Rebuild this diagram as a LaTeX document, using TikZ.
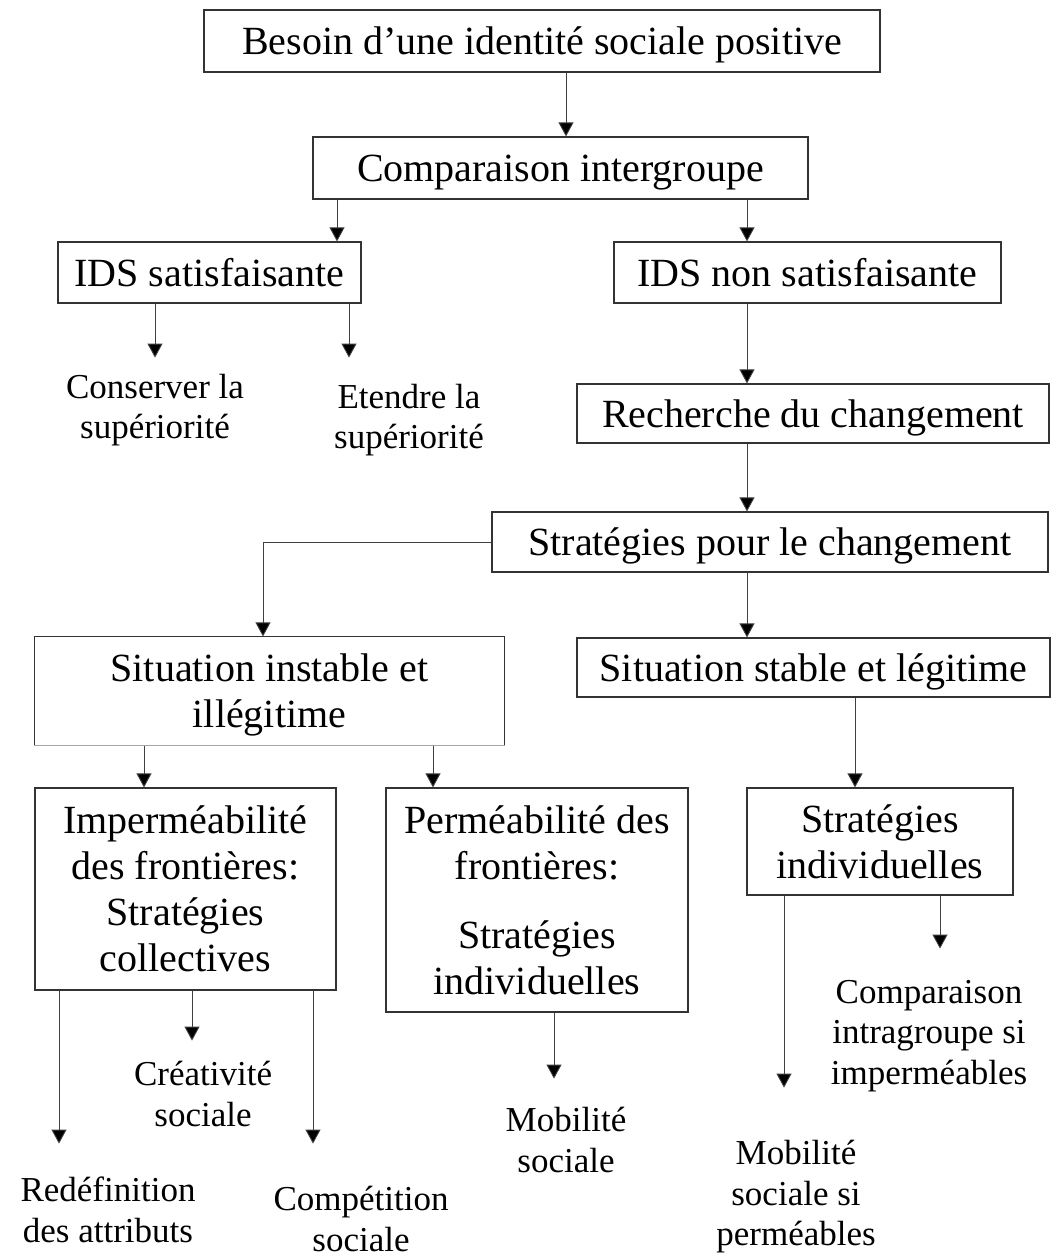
\documentclass[tikz,border=0pt]{standalone}
\usepackage{fontspec}
\setmainfont{Liberation Serif}
\usetikzlibrary{arrows.meta}
\begin{document}
\begin{tikzpicture}[x=1pt,y=-1pt,
  box/.style={draw=black!80,line width=1.2pt,rectangle,inner sep=0pt,align=center,
    font=\fontsize{40}{46}\selectfont,text depth=0pt},
  lbl/.style={inner sep=0pt,align=center,font=\fontsize{35}{40.5}\selectfont},
  arr/.style={draw=black!75,line width=0.9pt,-{Triangle[width=15pt,length=14pt,fill=black]}}]
\useasboundingbox (0,0) rectangle (1058,1256);
\fill[white] (0,0) rectangle (1058,1256);
% boxes
\node[box,minimum width=676pt,minimum height=62pt] (b1) at (542,41) {Besoin d’une identité sociale positive};
\node[box,minimum width=495pt,minimum height=62pt] (b2) at (560.5,168) {Comparaison intergroupe};
\node[box,minimum width=303pt,minimum height=61pt] (b3) at (209.5,272.5) {IDS satisfaisante};
\node[box,minimum width=387pt,minimum height=61pt] (b4) at (807.5,272.5) {IDS non satisfaisante};
\node[box,minimum width=472pt,minimum height=59pt] (b5) at (813,413.5) {Recherche du changement};
\node[box,minimum width=556pt,minimum height=60pt] (b6) at (770,542) {Stratégies pour le changement};
\node[box,draw=none,minimum width=469pt,minimum height=108pt] (b7) at (269.5,691) {Situation instable et\\illégitime};
\draw[black!80,line width=1.2pt] (b7.south west) -- (b7.north west) -- (b7.north east) -- (b7.south east);
\draw[black!35,line width=0.8pt] (b7.south west) -- (b7.south east);
\node[box,minimum width=473pt,minimum height=59pt] (b8) at (813.5,667.5) {Situation stable et légitime};
\node[box,minimum width=301pt,minimum height=202pt] (b9) at (185.5,889) {Imperméabilité\\des frontières:\\Stratégies\\collectives};
\node[box,minimum width=302pt,minimum height=224pt] (b10) at (537,900) {Perméabilité des\\frontières:\\[23pt]Stratégies\\individuelles};
\node[box,minimum width=266pt,minimum height=107pt] (b11) at (880,841.5) {Stratégies\\individuelles};
% labels
\node[lbl] (l1) at (155,410) {Conserver la\\supériorité};
\node[lbl] (l2) at (409,420) {Etendre la\\supériorité};
\node[lbl] (l3) at (203,1094) {Créativité\\sociale};
\node[lbl] (l4) at (108,1210) {Redéfinition\\des attributs};
\node[lbl] (l5) at (361,1219) {Compétition\\sociale};
\node[lbl] (l6) at (566,1140) {Mobilité\\sociale};
\node[lbl] (l7) at (929,1036) {Comparaison\\intragroupe si\\imperméables};
\node[lbl] (l8) at (796,1197) {Mobilité\\sociale si\\perméables};
% connectors
\draw[arr] (b1.south -| 566,0) -- (b2.north -| 566,0);
\draw[arr] (b2.south -| 337,0) -- (b3.north -| 337,0);
\draw[arr] (b2.south -| 747,0) -- (b4.north -| 747,0);
\draw[arr] (b3.south -| 155,0) -- ++(0,54);
\draw[arr] (b3.south -| 349,0) -- ++(0,54);
\draw[arr] (b4.south -| 747,0) -- (b5.north -| 747,0);
\draw[arr] (b5.south -| 747,0) -- (b6.north -| 747,0);
\draw[arr] (b6.west) -| (b7.north -| 263,0);
\draw[arr] (b6.south -| 747,0) -- (b8.north -| 747,0);
\draw[arr] (b7.south -| 144,0) -- (b9.north -| 144,0);
\draw[arr] (b7.south -| 433,0) -- (b10.north -| 433,0);
\draw[arr] (b8.south -| 855,0) -- (b11.north -| 855,0);
\draw[arr] (b9.south -| 59,0) -- ++(0,153);
\draw[arr] (b9.south -| 192,0) -- ++(0,50);
\draw[arr] (b9.south -| 313,0) -- ++(0,153);
\draw[arr] (b10.south -| 554,0) -- ++(0,66);
\draw[arr] (b11.south -| 784,0) -- ++(0,192);
\draw[arr] (b11.south -| 940,0) -- ++(0,53);
\end{tikzpicture}
\end{document}
